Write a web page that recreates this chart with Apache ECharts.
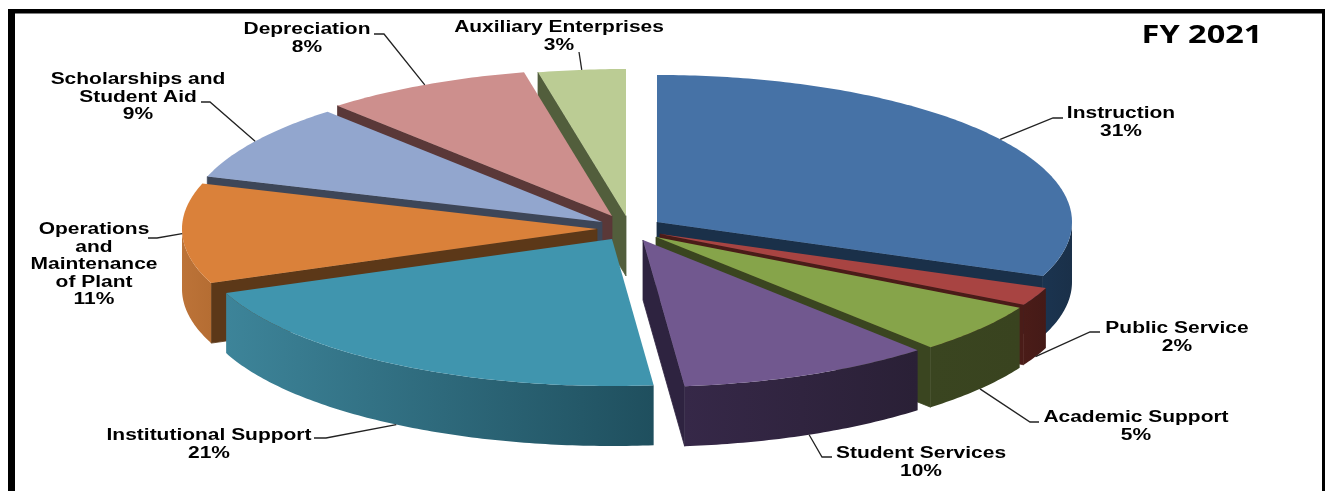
<!DOCTYPE html>
<html><head><meta charset="utf-8">
<style>html,body{margin:0;padding:0;background:#fff}#c{width:1325px;height:491px}</style>
<script src="https://cdn.jsdelivr.net/npm/echarts@6/dist/echarts.min.js"></script>
</head><body><div id="c"></div>
<script>
// ---- data ----
const categories = ['Instruction','Public Service','Academic Support','Student Services','Institutional Support','Operations\nand\nMaintenance\nof Plant','Scholarships and\nStudent Aid','Depreciation','Auxiliary Enterprises'];
const shares = [31, 2, 5.49, 9.91, 20.6, 11, 8.5, 8.1, 3.4];
const percentLabels = ['31%','2%','5%','10%','21%','11%','9%','8%','3%'];
// ---- style ----
const topColors  = ['#4672A6','#A84442','#86A44A','#71588F','#4095AE','#DA813A','#92A6CE','#CD8F8D','#BBCC94'];
const cutColors  = ['#1A3049','#4A1C18','#3A4520','#2E2340','#2A6273','#5C3818','#3D4658','#5A3838','#525E3C'];
const wallStops  = [['#1B3450','#1A3049'],['#4A1C18','#451A17'],['#3A4520','#39431F'],['#362848','#2A2036'],['#3D8499','#1F4F5E'],['#BC7338','#B56D33'],['#3D4658','#3D4658'],['#5A3838','#5A3838'],['#525E3C','#525E3C']];
const center = [625, 228], rx = 415, ry = 147, depth = 60;
// explosion of each slice away from the pie centre, px
const explode = [[32,-6],[35,6],[31,9],[18,12],[-13,11],[-28,1],[-23,-6],[-13,-12],[1,-12]];
// label: centre x, first line top y ; leader: text-side x, elbow x, y
const labelPos = [[1121,105],[1177,320],[1136,409],[921,445],[209,427],[94,221],[138,71],[307,21],[559,19]];
const leaderPos = [[1063,1053,118],[1100,1090,332],[1039,1030,422],[832,822,457],[314,326,438],[148,157,238],[201,210,102],[374,384,34],[579,579,52]];

const total = shares.reduce((a,b)=>a+b,0);
const startAngles = []; shares.reduce((acc,v)=>{startAngles.push(acc); return acc+v/total*360;},0);
const rad = d=>d*Math.PI/180;
const rimPt = (o,a,dz)=>[o[0]+rx*Math.sin(rad(a)), o[1]-ry*Math.cos(rad(a))+(dz||0)];
function arc(o,a,b,dz){const pts=[],n=Math.max(2,Math.ceil((b-a)/0.75));for(let k=0;k<=n;k++)pts.push(rimPt(o,a+(b-a)*k/n,dz));return pts;}

function renderSlice(params, api){
  const i = params.dataIndex, v = api.value(1);
  const a = startAngles[i], b = a + v/total*360, mid=(a+b)/2;
  const o = [center[0]+explode[i][0], center[1]+explode[i][1]];
  const base = Math.round((-Math.cos(rad(mid))+1)*100)*10;
  const kids = [];
  const poly=(pts,fill,z,seam)=>kids.push({type:'polygon',shape:{points:pts},style:{fill:fill,stroke:seam||null,lineWidth:seam?0.8:0},z2:base+z});
  // cut faces that turn toward the viewer
  const cut=(ang)=>{const r=rimPt(o,ang);poly([o,r,[r[0],r[1]+depth],[o[0],o[1]+depth]],cutColors[i],1,cutColors[i]);};
  if(a>180) cut(a);
  if(b<180) cut(b);
  // outer wall: only the front half of the rim
  const wa=Math.max(a,90), wb=Math.min(b,270);
  if(wb>wa){
    const upper=arc(o,wa,wb,0), lower=arc(o,wa,wb,depth).reverse();
    poly(upper.concat(lower),{type:'linear',x:0,y:0,x2:1,y2:0,colorStops:[{offset:0,color:wallStops[i][0]},{offset:1,color:wallStops[i][1]}]},2);
  }
  // top face
  poly([o].concat(arc(o,a,b,0)),topColors[i],3);
  // leader
  const anc=rimPt(o,mid,(-Math.cos(rad(mid))>0.1)?depth:0), lp=leaderPos[i];
  kids.push({type:'polyline',shape:{points:[[lp[0],lp[2]],[lp[1],lp[2]],anc]},style:{stroke:'#222',lineWidth:1.3,fill:null},z2:9000});
  // label
  const lb=labelPos[i];
  kids.push({type:'text',x:lb[0],y:lb[1],scaleX:1.31,style:{text:categories[i]+'\n'+percentLabels[i],fill:'#000',font:'bold 16px "Liberation Sans"',lineHeight:17.5,align:'center',verticalAlign:'top'},z2:9001});
  return {type:'group',children:kids};
}
const chart = echarts.init(document.getElementById('c'),null,{renderer:'canvas',width:1325,height:491});
chart.setOption({
  animation:false,
  backgroundColor:'#fff',
  graphic:[
    {type:'rect',shape:{x:8,y:9,width:7,height:482},style:{fill:'#000'}},
    {type:'rect',shape:{x:8,y:9,width:1317,height:4.5},style:{fill:'#000'}},
    {type:'rect',shape:{x:1322,y:9,width:3,height:482},style:{fill:'#000'}},
    {type:'text',x:1202,y:35.5,scaleX:1.3,style:{text:'FY 2021',fill:'#000',font:'bold 25px "Open Sans"',align:'center',verticalAlign:'middle'}}
  ],
  series:[{
    type:'custom',
    coordinateSystem:'none',
    renderItem:renderSlice,
    encode:{value:1},
    data:categories.map((c,i)=>[c,shares[i]])
  }]
});
</script></body></html>
